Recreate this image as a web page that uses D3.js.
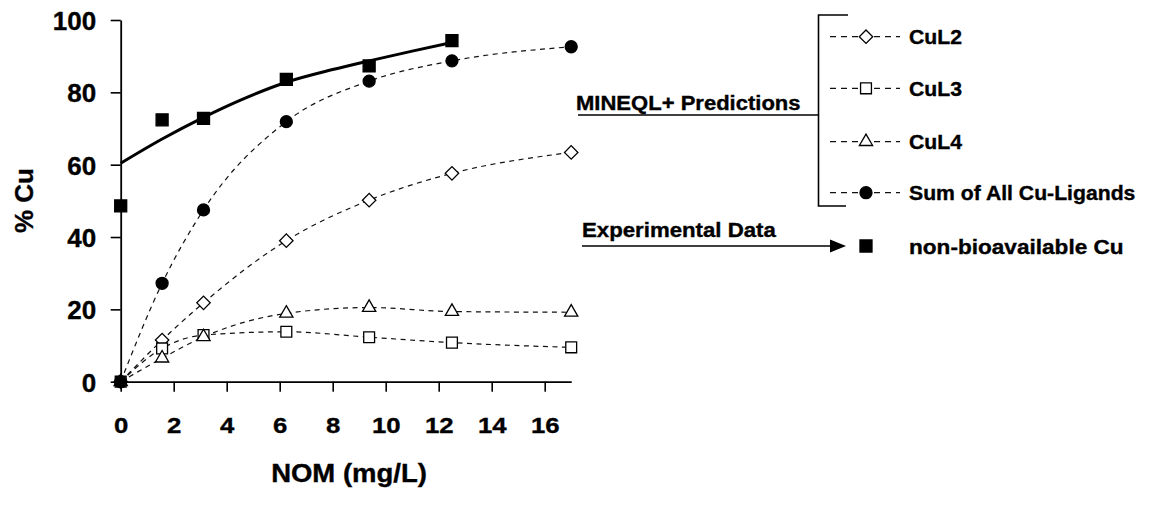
<!DOCTYPE html>
<html>
<head>
<meta charset="utf-8">
<script src="https://cdn.jsdelivr.net/npm/d3@7"></script>
<style>
  body { margin: 0; background: #fff; }
  svg { display: block; }
  text { font-family: "Liberation Sans", Arial, sans-serif; font-weight: bold; fill: #000; stroke: #000; stroke-width: 0.35px; }
</style>
</head>
<body>
<svg id="chart" width="1151" height="506"></svg>
<script>
// NOM concentrations (mg/L) used for the MINEQL+ speciation runs
const nom = [0, 1.5625, 3.125, 6.25, 9.375, 12.5, 17];
// Predicted % of total Cu bound in each complex
const cuL2 = [0, 11.5, 21.8, 39.0, 50.2, 57.6, 63.4];
const cuL3 = [0, 9.2, 12.9, 13.8, 12.3, 10.8, 9.5];
const cuL4 = [0, 6.5, 12.4, 18.9, 20.5, 19.4, 19.2];
const sumLigands = [0, 27.2, 47.5, 71.9, 83.1, 88.7, 92.6];

// Measured non-bioavailable Cu
const nomExp = [0, 1.5625, 3.125, 6.25, 9.375, 12.5];
const nonBio = [48.6, 72.4, 72.8, 83.6, 87.3, 94.3];

// Trend line through the measured values
const trendNom = [0, 1.5625, 3.125, 4.5, 6.25, 8, 9.375, 11, 12.5];
const trendPct = [60.4, 67.1, 73.1, 77.8, 82.8, 86.3, 88.7, 91.4, 93.8];

const xTicks = [0, 2, 4, 6, 8, 10, 12, 14, 16];
const yTicks = [0, 20, 40, 60, 80, 100];

const predSeries = [
  { name: "CuL2", values: cuL2, marker: "diamond" },
  { name: "CuL3", values: cuL3, marker: "square" },
  { name: "CuL4", values: cuL4, marker: "triangle" },
  { name: "Sum of All Cu-Ligands", values: sumLigands, marker: "circle" }
];

const svg = d3.select("#chart");
const x = d3.scaleLinear().domain([0, 17]).range([120.7, 571.2]);
const y = d3.scaleLinear().domain([0, 100]).range([381.7, 20]);

// marker shapes
const symbols = {
  diamond:  { type: d3.symbolSquare,   size: 90,  rotate: 45, fill: "#fff" },
  square:   { type: d3.symbolSquare,   size: 118, rotate: 0,  fill: "#fff" },
  triangle: { type: d3.symbolTriangle, size: 76,  rotate: 0,  fill: "#fff" },
  circle:   { type: d3.symbolCircle,   size: 113, rotate: 0,  fill: "#000" },
  solid:    { type: d3.symbolSquare,   size: 144, rotate: 0,  fill: "#000" }
};
function marker(g, kind, px, py) {
  const s = symbols[kind];
  g.append("path")
    .attr("d", d3.symbol(s.type, s.size)())
    .attr("transform", `translate(${px},${py}) rotate(${s.rotate})`)
    .attr("fill", s.fill)
    .attr("stroke", "#000")
    .attr("stroke-width", 1.3);
}
function label(g, str, px, py, size, anchor, sx) {
  return g.append("text")
    .attr("transform", `translate(${px},${py}) scale(${sx},1)`)
    .attr("text-anchor", anchor)
    .style("font-size", size + "px")
    .text(str);
}

// axes
const xAxis = svg.append("g")
  .attr("transform", `translate(0,${y(0)})`)
  .call(d3.axisBottom(x).tickValues(xTicks).tickSize(10).tickSizeOuter(0).tickFormat(d => d));
const yAxis = svg.append("g")
  .attr("transform", `translate(${x(0)},0)`)
  .call(d3.axisLeft(y).tickValues(yTicks).tickSize(10).tickSizeOuter(0).tickFormat(d => d));
[xAxis, yAxis].forEach(a => {
  a.select(".domain").attr("stroke", "#000").attr("stroke-width", 1.8);
  a.selectAll(".tick line").attr("stroke", "#000").attr("stroke-width", 1.6);
  a.selectAll(".tick text").attr("font-family", null).attr("font-size", null).attr("fill", null);
});
xAxis.selectAll(".tick text")
  .attr("y", null).attr("dy", null)
  .attr("transform", "translate(0,51.5) scale(1.12,1)")
  .style("font-size", "23px");
yAxis.selectAll(".tick text")
  .attr("x", -24.5).attr("dy", "0.36em")
  .style("font-size", "26px");

// axis titles
label(svg, "NOM (mg/L)", 349, 482, 25, "middle", 1.1);
svg.append("text")
  .attr("transform", "translate(33,200.5) rotate(-90)")
  .attr("text-anchor", "middle")
  .style("font-size", "26px")
  .text("% Cu");

// predicted series: dashed lines, then markers
const dashLine = d3.line().x((d, i) => x(nom[i])).y(d => y(d)).curve(d3.curveMonotoneX);
predSeries.forEach(s => {
  svg.append("path")
    .attr("d", dashLine(s.values))
    .attr("fill", "none")
    .attr("stroke", "#111")
    .attr("stroke-width", 1.2)
    .attr("stroke-dasharray", "5,4.5");
});
predSeries.forEach(s => {
  s.values.forEach((v, i) => marker(svg, s.marker, x(nom[i]), y(v)));
});

// trend line and measured values
const trendLine = d3.line().x((d, i) => x(trendNom[i])).y(d => y(d)).curve(d3.curveMonotoneX);
svg.append("path")
  .attr("d", trendLine(trendPct))
  .attr("fill", "none")
  .attr("stroke", "#000")
  .attr("stroke-width", 3);
nonBio.forEach((v, i) => marker(svg, "solid", x(nomExp[i]), y(v)));

// legend
const lg = svg.append("g");
const rowY = [36.7, 88.3, 141.7, 192.7];
predSeries.forEach((s, i) => {
  lg.append("line")
    .attr("x1", 830).attr("x2", 900).attr("y1", rowY[i]).attr("y2", rowY[i])
    .attr("stroke", "#111").attr("stroke-width", 1.2)
    .attr("stroke-dasharray", "6,5");
  marker(lg, s.marker, 866, rowY[i]);
  label(lg, s.name, 909, rowY[i] + 7.2, 20, "start", 1.06);
});
// bracket grouping the predictions
lg.append("path")
  .attr("d", "M848,15 H818.5 V206 H846")
  .attr("fill", "none").attr("stroke", "#000").attr("stroke-width", 1.6);
lg.append("line")
  .attr("x1", 578).attr("x2", 818.5).attr("y1", 115).attr("y2", 115)
  .attr("stroke", "#000").attr("stroke-width", 1.6);
label(lg, "MINEQL+ Predictions", 576, 110, 19.5, "start", 1.13);

// arrow pointing to the measured series
label(lg, "Experimental Data", 582, 237, 19.5, "start", 1.14);
lg.append("line")
  .attr("x1", 582).attr("x2", 832).attr("y1", 246).attr("y2", 246)
  .attr("stroke", "#000").attr("stroke-width", 1.6);
lg.append("path")
  .attr("d", "M830,239.5 L846,246 L830,252.5 Z")
  .attr("fill", "#000");
marker(lg, "solid", 866, 246);
label(lg, "non-bioavailable Cu", 909, 253.5, 20, "start", 1.13);
</script>
</body>
</html>
